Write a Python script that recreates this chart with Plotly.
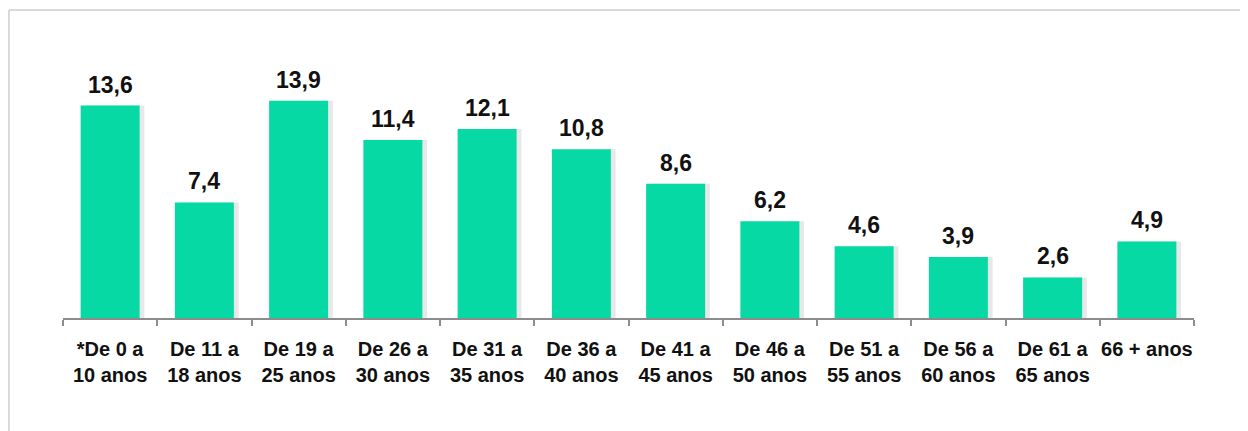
import plotly.graph_objects as go

categories = ["*De 0 a<br>10 anos", "De 11 a<br>18 anos", "De 19 a<br>25 anos", "De 26 a<br>30 anos",
              "De 31 a<br>35 anos", "De 36 a<br>40 anos", "De 41 a<br>45 anos", "De 46 a<br>50 anos",
              "De 51 a<br>55 anos", "De 56 a<br>60 anos", "De 61 a<br>65 anos", "66 + anos"]
values = [13.6, 7.4, 13.9, 11.4, 12.1, 10.8, 8.6, 6.2, 4.6, 3.9, 2.6, 4.9]
labels = [f"{v:.1f}".replace(".", ",") for v in values]

BAR_W = 0.626
# the page body adds an 8px offset, so figure coordinates are shifted by -8
L, R, T, B, W, H = 55, 62, 60, 121, 1248, 431
PW, PH = W - L - R, H - T - B

fig = go.Figure()
# soft shadow on the right side of each bar
fig.add_trace(go.Bar(x=categories, y=values, width=BAR_W, offset=-BAR_W / 2 + 0.05,
                     marker=dict(color="rgba(150,150,150,0.22)", line=dict(width=0)),
                     hoverinfo="skip"))
fig.add_trace(go.Bar(x=categories, y=values, width=BAR_W, offset=-BAR_W / 2,
                     marker=dict(color="#07D9A5", line=dict(width=0))))

for c, v, t in zip(categories, values, labels):
    fig.add_annotation(x=c, y=v, text=f"<b>{t}</b>", showarrow=False, yanchor="bottom", yshift=6,
                       font=dict(family="Liberation Sans, Arial", size=23, color="#111111"))

ticktext = ["<b>" + c.replace("<br>", "</b><br><b>") + "</b>" for c in categories]

fig.update_layout(
    width=W, height=H,
    margin=dict(l=L, r=R, t=T, b=B, autoexpand=False),
    paper_bgcolor="white", plot_bgcolor="white",
    barmode="overlay", showlegend=False,
    font=dict(family="Liberation Sans, Arial", color="#111111"),
    xaxis=dict(showline=True, linecolor="#8c8c8c", linewidth=2, ticks="outside",
               tickson="boundaries", ticklen=6, tickcolor="#8c8c8c", tickwidth=1.5,
               showgrid=False, tickangle=0, automargin=False,
               tickvals=categories, ticktext=ticktext,
               tickfont=dict(size=20, family="Liberation Sans, Arial", color="#111111"),
               ticklabelstandoff=12),
    yaxis=dict(range=[0, 16], visible=False, showgrid=False, zeroline=False),
    shapes=[
        dict(type="line", xref="paper", yref="paper", x0=(1 - L) / PW, x1=(W - L) / PW,
             y0=(H - B - 2) / PH, y1=(H - B - 2) / PH,
             line=dict(color="#d9d9d9", width=2)),
        dict(type="line", xref="paper", yref="paper", x0=(1 - L) / PW, x1=(1 - L) / PW,
             y0=-B / PH, y1=(H - B - 2) / PH,
             line=dict(color="#d9d9d9", width=2)),
    ],
)

fig.write_html("out.html")
